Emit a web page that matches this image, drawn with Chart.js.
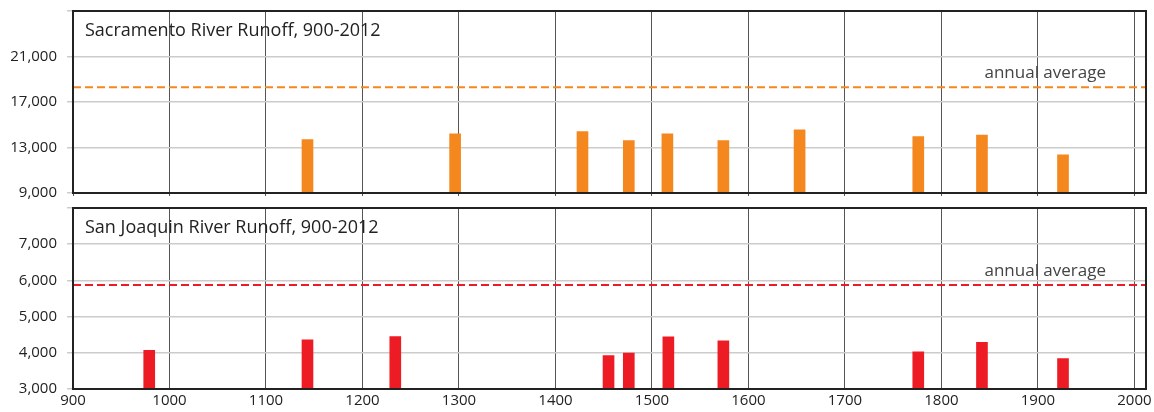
<!DOCTYPE html>
<html>
<head>
<meta charset="utf-8">
<script src="https://cdn.jsdelivr.net/npm/chart.js@4/dist/chart.umd.min.js"></script>
<style>
    html, body { margin: 0; padding: 0; background: #fff; }
    .wrap { position: relative; width: 1154px; height: 412px; }
    .wrap div { position: absolute; left: 0; width: 1154px; }
</style>
</head>
<body>
<div class="wrap">
    <div style="top:0;height:200px"><canvas id="sac-chart"></canvas></div>
    <div style="top:200px;height:212px"><canvas id="sj-chart"></canvas></div>
</div>
<script>
// drought years (bar centres) and runoff values
var sacYears = [1143, 1296, 1428, 1476, 1516, 1574, 1653, 1776, 1842, 1926];
var sacRunoff = [13700, 14200, 14400, 13600, 14200, 13600, 14550, 13950, 14100, 12350];
var sacAverage = 18300;

var sjYears = [979, 1143, 1234, 1455, 1476, 1517, 1574, 1776, 1842, 1926];
var sjRunoff = [4070, 4360, 4450, 3920, 3990, 4440, 4330, 4030, 4290, 3840];
var sjAverage = 5870;

var yearMin = 900;
var yearMax = 2012;
var yearTicks = [900, 1000, 1100, 1200, 1300, 1400, 1500, 1600, 1700, 1800, 1900, 2000];

var FONT = "'Open Sans', 'Noto Sans', sans-serif";

// frame, title and "annual average" label
var framePlugin = {
    id: "frame",
    afterDatasetsDraw: function (chart, args, opts) {
        var ctx = chart.ctx;
        var a = chart.chartArea;
        ctx.save();
        ctx.strokeStyle = "#222";
        ctx.lineWidth = 2;
        ctx.strokeRect(a.left, a.top, a.right - a.left, a.bottom - a.top);

        ctx.fillStyle = "#222";
        ctx.font = "18px " + FONT;
        ctx.textAlign = "left";
        ctx.textBaseline = "middle";
        ctx.fillText(opts.title, a.left + 12, a.top + 20);

        var y = chart.scales.y.getPixelForValue(opts.average);
        ctx.fillStyle = "#444";
        ctx.font = "17px " + FONT;
        ctx.textAlign = "right";
        ctx.textBaseline = "alphabetic";
        ctx.fillText("annual average", a.right - 40, y - 9);
        ctx.restore();
    }
};

function makeChart(canvasId, opt) {
    var bars = opt.years.map(function (yr, i) {
        return { x: yr, y: opt.values[i] };
    });
    return new Chart(document.getElementById(canvasId), {
        type: "bar",
        data: {
            datasets: [
                {
                    type: "line",
                    data: [{ x: yearMin, y: opt.average }, { x: yearMax, y: opt.average }],
                    borderColor: opt.color,
                    borderWidth: 2,
                    borderDash: [8, 4],
                    pointRadius: 0,
                    order: 0,
                },
                {
                    data: bars,
                    backgroundColor: opt.color,
                    barThickness: 11,
                    order: 1,
                },
            ],
        },
        options: {
            responsive: true,
            maintainAspectRatio: false,
            animation: false,
            layout: { padding: { left: 0, right: 8, top: opt.top, bottom: 0 } },
            plugins: {
                legend: { display: false },
                tooltip: { enabled: false },
                frame: { title: opt.title, average: opt.average },
            },
            scales: {
                x: {
                    type: "linear",
                    min: yearMin,
                    max: yearMax,
                    offset: false,
                    afterBuildTicks: function (scale) {
                        scale.ticks = yearTicks.map(function (v) { return { value: v }; });
                    },
                    afterFit: function (scale) {
                        scale.height = opt.xHeight;
                        scale.paddingLeft = 0;
                        scale.paddingRight = 0;
                    },
                    grid: {
                        color: "#555",
                        lineWidth: 1,
                        offset: false,
                        drawTicks: opt.xTickMarks,
                        tickLength: 3,
                    },
                    border: { display: false },
                    ticks: {
                        display: opt.showX,
                        color: "#222",
                        padding: 3,
                        maxRotation: 0,
                        autoSkip: false,
                        font: { family: FONT, size: 15 },
                        callback: function (v) { return String(v); },
                    },
                },
                y: {
                    min: opt.yMin,
                    max: opt.yMax,
                    afterFit: function (scale) {
                        scale.width = 73;
                        scale.paddingTop = 0;
                        scale.paddingBottom = 0;
                    },
                    grid: {
                        color: "#cccccc",
                        lineWidth: 1.5,
                        tickLength: 6,
                    },
                    border: { display: false },
                    ticks: {
                        stepSize: opt.yStep,
                        color: "#222",
                        padding: 10,
                        font: { family: FONT, size: 15 },
                        callback: function (v) {
                            if (v === opt.yMax) return "";
                            return v.toLocaleString("en-US");
                        },
                    },
                },
            },
        },
        plugins: [framePlugin],
    });
}

makeChart("sac-chart", {
    years: sacYears,
    values: sacRunoff,
    average: sacAverage,
    color: "#f5871f",
    title: "Sacramento River Runoff, 900-2012",
    yMin: 9000,
    yMax: 25000,
    yStep: 4000,
    top: 11,
    xHeight: 7,
    showX: false,
    xTickMarks: true,
});

makeChart("sj-chart", {
    years: sjYears,
    values: sjRunoff,
    average: sjAverage,
    color: "#ed1c24",
    title: "San Joaquin River Runoff, 900-2012",
    yMin: 3000,
    yMax: 8000,
    yStep: 1000,
    top: 8,
    xHeight: 23,
    showX: true,
    xTickMarks: false,
});
</script>
</body>
</html>
